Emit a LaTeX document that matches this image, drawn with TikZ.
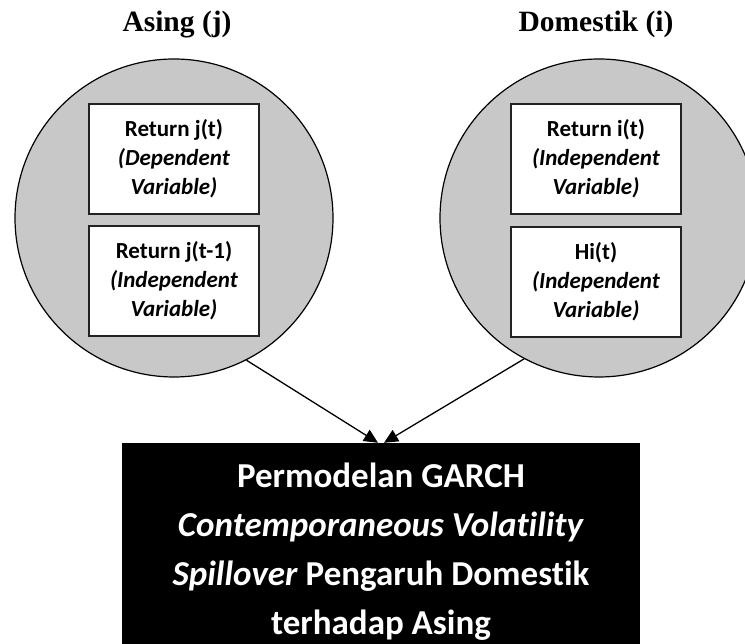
\documentclass[tikz,border=0pt]{standalone}
\usepackage{fontspec}
\setmainfont{Carlito}[Ligatures={NoCommon}]
\newfontfamily\headfont{Liberation Serif}
\usetikzlibrary{positioning,arrows.meta}
\definecolor{discgray}{RGB}{200,200,200}
\definecolor{boxline}{RGB}{34,34,34}
\tikzset{
  market/.style={circle,draw=black,line width=1.2pt,fill=discgray,minimum size=318pt,inner sep=0pt},
  varbox/.style={rectangle,draw=boxline,line width=1.8pt,fill=white,minimum width=170pt,minimum height=110pt,
    align=center,inner sep=0pt,font=\fontsize{23}{29}\selectfont\bfseries},
  head/.style={anchor=base,font=\fontsize{29.5}{34}\selectfont\headfont\bfseries},
  flow/.style={-{Triangle[length=14pt,width=13pt]},line width=1.3pt}
}
\begin{document}
\begin{tikzpicture}[x=1pt,y=1pt]
	\useasboundingbox (0,0) rectangle (745,644);
	
	% pasar asing dan domestik
	\node[market] (asing) at (174,426) {};
	\node[market] (domestik) at (599,426) {};
	
	\node[head] (hasing) at (177,612) {Asing (j)};
	\node[head] (hdomestik) at (596,612) {Domestik (i)};
	
	% variabel
	\node[varbox] (rj) at (174,485) {Return j(t)\\\textit{(Dependent}\\\textit{Variable)}};
	\node[varbox,below=10pt of rj] (rjlag) {Return j(t-1)\\\textit{(Independent}\\\textit{Variable)}};
	
	\node[varbox] (ri) at (596,485) {Return i(t)\\\textit{(Independent}\\\textit{Variable)}};
	\node[varbox,below=11pt of ri] (hi) {Hi(t)\\\textit{(Independent}\\\textit{Variable)}};
	
	% model garch
	\node[fill=black,text=white,minimum width=518pt,minimum height=218pt,align=center,
		font=\fontsize{35}{49}\selectfont\bfseries] (garch) at (381,92)
		{Permodelan GARCH\\\textit{Contemporaneous Volatility}\\\textit{Spillover} Pengaruh Domestik\\terhadap Asing};
	
	\coordinate (tipL) at ([xshift=-3pt]garch.north);
	\coordinate (tipR) at ([xshift=3pt]garch.north);
	
	\draw[flow] (asing.-63) -- (tipL);
	\draw[flow] (domestik.-118) -- (tipR);
\end{tikzpicture}
\end{document}
